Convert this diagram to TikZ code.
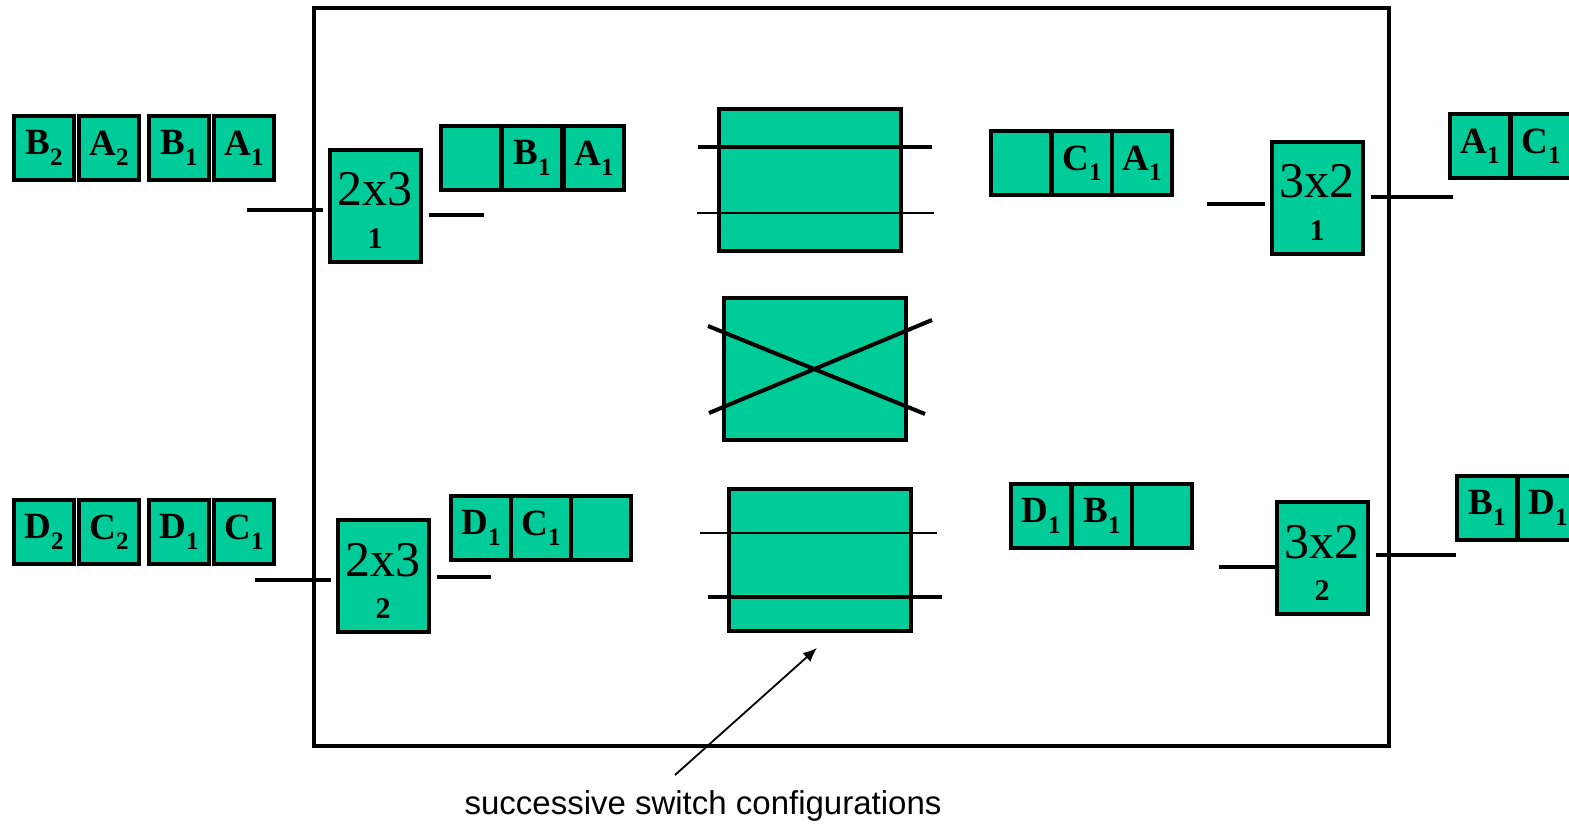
\documentclass[tikz,border=0pt]{standalone}
\usepackage{fontspec}
\setmainfont{Liberation Serif}
\setsansfont{Liberation Sans}
\usetikzlibrary{arrows.meta}
\definecolor{cellgreen}{RGB}{0,204,153}
% packet label with lowered index
\newcommand{\pkt}[2]{#1\raisebox{-0.28em}{\fontsize{12.5}{12.5}\selectfont #2}}
% switch size over its number
\newcommand{\swlabel}[2]{\rule{0pt}{21pt}#1\\{\fontsize{15}{15}\selectfont\bfseries #2}}
\begin{document}
\begin{tikzpicture}[x=0.5pt, y=-0.5pt]
\tikzset{ >={Latex[length=7pt,width=6pt]},
  cell/.style={draw, fill=cellgreen, line width=2pt, minimum width=30pt, minimum height=32pt,
               inner sep=0pt, font=\fontsize{18.5}{18}\selectfont\bfseries},
  switchbox/.style={draw, fill=cellgreen, line width=2pt, minimum width=45.5pt, minimum height=56pt,
               inner sep=0pt, align=center, font=\fontsize{25}{21}\selectfont},
  config/.style={draw, fill=cellgreen, line width=2pt, minimum width=91pt, minimum height=71pt, inner sep=0pt},
  wire/.style={line width=2pt},
}
\useasboundingbox (0,0) rectangle (1569,824);

%\draw [lightgray, dashed](0,0) grid[step=50] (1569,824);

\draw [line width=2pt] (314,8) rectangle (1389,746);

% input queues
\node [cell] (iB2) at (44,148)  {\pkt{B}{2}};
\node [cell] (iA2) at (109,148) {\pkt{A}{2}};
\node [cell] (iB1) at (179,148) {\pkt{B}{1}};
\node [cell] (iA1) at (244,148) {\pkt{A}{1}};

\node [cell] (iD2) at (44,532)  {\pkt{D}{2}};
\node [cell] (iC2) at (109,532) {\pkt{C}{2}};
\node [cell] (iD1) at (179,532) {\pkt{D}{1}};
\node [cell] (iC1) at (244,532) {\pkt{C}{1}};

% input stage
\node [switchbox] (x23a) at (375,206) {\swlabel{2x3}{1}};
\node [switchbox] (x23b) at (383,576) {\swlabel{2x3}{2}};

\node [cell] (sE1) at (471,158) {};
\node [cell] (sB1) at (532,158) {\pkt{B}{1}};
\node [cell] (sA1) at (594,158) {\pkt{A}{1}};

\node [cell] (sD1) at (481,528) {\pkt{D}{1}};
\node [cell] (sC1) at (541,528) {\pkt{C}{1}};
\node [cell] (sE2) at (601,528) {};

% middle stage, one setting per time slot
\node [config] (cfgA) at (810,180) {};
\node [config] (cfgB) at (815,369) {};
\node [config] (cfgC) at (820,560) {};

\draw [line width=2pt] (698,147) -- (932,147);
\draw [line width=1pt] (697,213) -- (934,213);

\draw [line width=2pt] (708,326) -- (925,414);
\draw [line width=2pt] (709,413) -- (932,320);

\draw [line width=1pt] (700,533) -- (937,533);
\draw [line width=2pt] (708,597) -- (942,597);

\node [cell] (mE1) at (1021,163) {};
\node [cell] (mC1) at (1082,163) {\pkt{C}{1}};
\node [cell] (mA1) at (1142,163) {\pkt{A}{1}};

\node [cell] (mD1) at (1041,516) {\pkt{D}{1}};
\node [cell] (mB1) at (1102,516) {\pkt{B}{1}};
\node [cell] (mE2) at (1162,516) {};

% output stage
\node [switchbox] (x32a) at (1317,198) {\swlabel{3x2}{1}};
\node [switchbox] (x32b) at (1322,558) {\swlabel{3x2}{2}};

\node [cell] (oA1) at (1480,146) {\pkt{A}{1}};
\node [cell] (oC1) at (1541,146) {\pkt{C}{1}};

\node [cell] (oB1) at (1487,508) {\pkt{B}{1}};
\node [cell] (oD1) at (1548,508) {\pkt{D}{1}};

% port stubs
\coordinate (x23a-in)  at (247,210);
\coordinate (x23a-out) at (484,215);
\coordinate (x23b-in)  at (255,580);
\coordinate (x23b-out) at (491,577);
\coordinate (x32a-in)  at (1207,204);
\coordinate (x32a-out) at (1453,197);
\coordinate (x32b-in)  at (1219,567);
\coordinate (x32b-out) at (1456,555);

\draw [wire, shorten >=2.5pt] (x23a-in) -- (x23a-in -| x23a.west);
\draw [wire, shorten <=3pt]   (x23a-out -| x23a.east) -- (x23a-out);
\draw [wire, shorten >=2.5pt] (x23b-in) -- (x23b-in -| x23b.west);
\draw [wire, shorten <=3pt]   (x23b-out -| x23b.east) -- (x23b-out);
\draw [wire, shorten >=2.5pt] (x32a-in) -- (x32a-in -| x32a.west);
\draw [wire, shorten <=3pt]   (x32a-out -| x32a.east) -- (x32a-out);
\draw [wire] (x32b-in) -- (x32b-in -| x32b.west);
\draw [wire, shorten <=3pt]   (x32b-out -| x32b.east) -- (x32b-out);

% caption
\node [font=\sffamily\fontsize{16.5}{18}\selectfont] (caption) at (703,806) {successive switch configurations};
\coordinate (tail) at (675,775);
\coordinate (tip)  at (817,648);
\draw [->, line width=0.9pt] (tail) -- (tip);

\end{tikzpicture}
\end{document}
